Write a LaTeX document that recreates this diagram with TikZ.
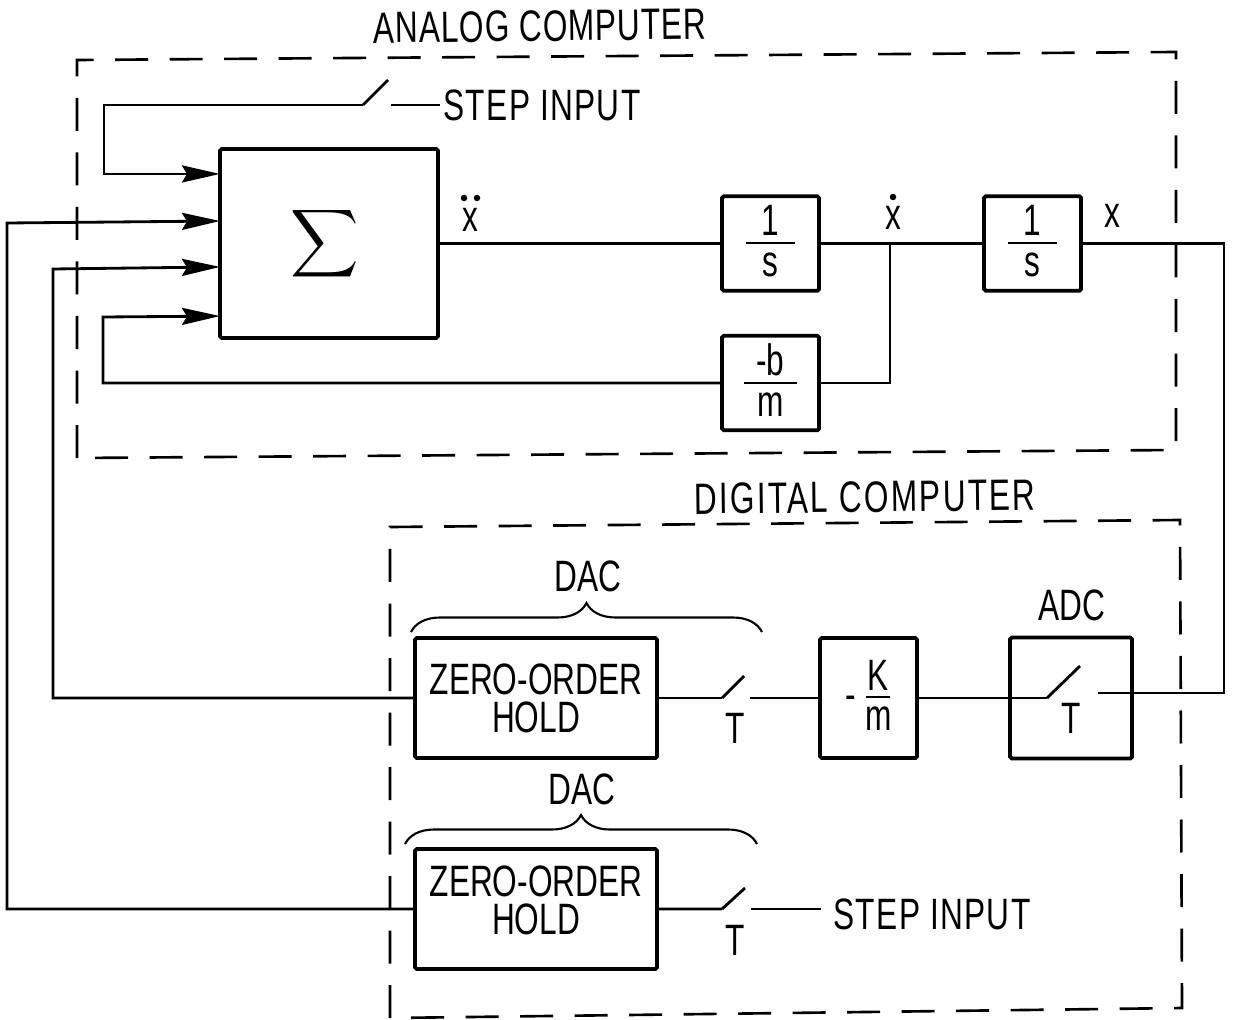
\documentclass[tikz,border=0pt]{standalone}
\usepackage{fontspec}
\setmainfont{Liberation Sans}[FakeStretch=0.72]
\usepackage{tikz}
\usetikzlibrary{arrows.meta,positioning,calc,decorations.pathreplacing}
\newcommand{\lblfont}{\fontsize{25}{21.6}\selectfont}
\newcommand{\ratio}[3]{\vbox{\offinterlineskip\halign{\hfil##\hfil\cr
  #2\cr\noalign{\kern3.5pt}\rule{#1}{1.2pt}\cr\noalign{\kern5pt}#3\cr\noalign{\kern3pt}}}}
\tikzset{
  blk/.style={draw=black, line width=2.2pt, rounded corners=1pt, inner sep=0pt,
              outer sep=0pt, align=center, font=\lblfont},
  sumb/.style={blk, minimum width=43.6mm, minimum height=37.8mm},
  intb/.style={blk, minimum width=19.4mm, minimum height=18.9mm},
  zohb/.style={blk, minimum width=48.4mm, minimum height=24mm},
  adcb/.style={blk, minimum width=24.4mm, minimum height=24.2mm},
  wire/.style={line width=1.2pt, draw=black},
  hvy/.style={wire, line width=1.6pt},
  ar/.style={hvy, -{Stealth[length=7.6mm,width=3.4mm,inset=1mm]}},
  lbl/.style={font=\lblfont, inner sep=0pt, align=center},
  dotm/.style={circle, fill=black, inner sep=0pt, minimum size=1.3mm},
  encl/.style={line width=1.5pt, dash pattern=on 6.6mm off 4.3mm},
  brc/.style={line width=1.2pt, decorate, decoration={brace, amplitude=5.8mm}},
}

\begin{document}
\begin{tikzpicture}[x=0.2mm, y=-0.2mm]
\useasboundingbox (0,0) rectangle (1236,1019);

% ---- analog blocks ----
\node[sumb] (summer) at (329,243.5) {\hspace{-5pt}\scalebox{2.7}{$\displaystyle\sum$}};
\node[intb, right=56.8mm of summer] (inta) {\ratio{28pt}{1}{s}};
\node[intb, right=33mm of inta] (intb) {\ratio{28pt}{1}{s}};
\node[intb, below=9mm of inta] (damp) {\ratio{30pt}{-b}{m}};

% ---- digital blocks ----
\node[zohb] (zoha) at (536,698) {ZERO-ORDER\\HOLD};
\node[zohb, below=18.2mm of zoha] (zohc) {ZERO-ORDER\\HOLD\\[-11.4pt]\mbox{}};
\node[intb, minimum height=24mm, right=32.6mm of zoha] (gain) {\raisebox{15pt}{-}\hspace{5pt}\ratio{14pt}{K}{m}};
\node[adcb, right=18.6mm of gain] (adc) {};

% ---- labels ----
\node[lbl, rotate=0.7] (analog) at (540,26) {\addfontfeature{LetterSpace=2}ANALOG COMPUTER};
\node[lbl, rotate=0.7] (digital) at (865,497) {\addfontfeature{LetterSpace=5}DIGITAL COMPUTER};
\node[lbl, inner xsep=2pt] (stepa) at (542,105) {\addfontfeature{LetterSpace=3}STEP INPUT};
\node[lbl, inner xsep=7pt] (stepb) at (932,914) {\addfontfeature{LetterSpace=3}STEP INPUT};
\node[lbl] (daca) at (588,576) {DAC};
\node[lbl] (dacc) at (582,789) {DAC};
\node[lbl] (adclbl) at (1072,605) {ADC};
\node[lbl] (ta) at (735,728) {T};
\node[lbl] (tc) at (735,940) {T};
\node[lbl] (tb) at (1071,718) {T};
\node[lbl] (xdd) at (470,220) {x};
\node[lbl] (xd) at (893,218) {x};
\node[lbl] (xp) at (1112,216) {x};
\node[dotm] (ddl) at (464,198) {};
\node[dotm] (ddr) at (477,198) {};
\node[dotm] (dd) at (893,197) {};

% ---- enclosures ----
\draw[encl] (77,458) -- (77,60) -- (1176,52) -- (1176,450) -- cycle;
\draw[encl] (390,1018) -- (390,527) -- (1180,520) -- (1182,1008) -- cycle;

% ---- braces ----
\draw[brc] (411,632) -- (762,632);
\draw[brc] (405,844) -- (757,844);

% ---- switches ----
\coordinate (hinga) at (363,105);
\coordinate (blada) at (388,80);
\coordinate (cona) at (391,105);
\coordinate (hingb) at (722,698);
\coordinate (bladb) at (744,676);
\coordinate (conb) at (750,698);
\coordinate (hingc) at (722,909);
\coordinate (bladc) at (745,888);
\coordinate (conc) at (751,909);
\coordinate (hingd) at (1047,698);
\coordinate (bladd) at (1080,666);
\coordinate (cond) at (1098,693);
\draw[hvy] (hinga) -- (blada);
\draw[hvy] (hingb) -- (bladb);
\draw[hvy] (hingc) -- (bladc);
\draw[hvy] (hingd) -- (bladd);

% ---- summer inputs ----
\coordinate (ina) at ($(summer.north west)!0.132!(summer.south west)$);
\coordinate (inb) at ($(summer.north west)!0.381!(summer.south west)$);
\coordinate (inc) at ($(summer.north west)!0.624!(summer.south west)$);
\coordinate (ind) at ($(summer.north west)!0.884!(summer.south west)$);
\coordinate (corna) at (104,105);
\coordinate (cornb) at (7,223);
\coordinate (cornc) at (53,269);
\coordinate (cornd) at (103,317);
\coordinate (jn) at (890,243.5);
\coordinate (outc) at (1224,693);

% ---- connectors ----
\draw[wire] (stepa.west) -- (cona);
\draw[ar] (hinga) -- (corna) |- (ina);
\draw[ar] (zohc.west) -| (cornb) -- (inb);
\draw[ar] (zoha.west) -| (cornc) -- (inc);
\draw[ar] (damp.west) -| (cornd) -- (ind);
\draw[wire] (summer.east) -- (inta.west);
\draw[wire] (inta.east) -- (intb.west);
\draw[wire] (damp.east) -| (jn);
\draw[wire] (intb.east) -| (outc) -- (cond);
\draw[hvy] (zoha.east) -- (hingb);
\draw[hvy] (conb) -- (gain.west);
\draw[hvy] (gain.east) -- (hingd);
\draw[hvy] (zohc.east) -- (hingc);
\draw[wire] (conc) -- (conc -| stepb.west);

\end{tikzpicture}
\end{document}
